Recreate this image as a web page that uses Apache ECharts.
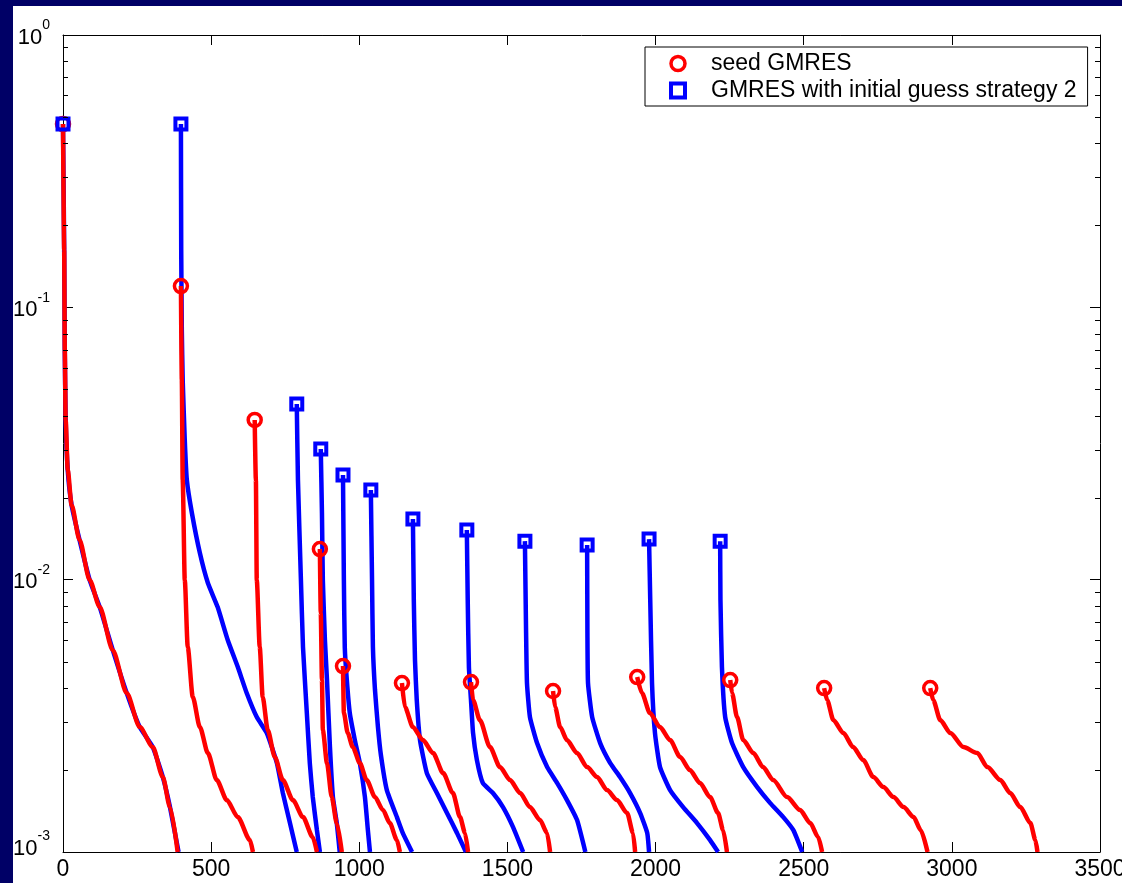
<!DOCTYPE html>
<html><head><meta charset="utf-8">
<script src="https://cdn.jsdelivr.net/npm/echarts@6/dist/echarts.min.js"></script>
<style>
html,body{margin:0;padding:0;background:#000066;width:1122px;height:883px;overflow:hidden}
#c{position:absolute;left:13px;top:6px;width:1109px;height:877px;background:#fff}
</style>
</head><body><div id="c"></div>
<script>
// ---- data ----
const seriesNames = ['seed GMRES', 'GMRES with initial guess strategy 2'];
const xTicks = [0, 500, 1000, 1500, 2000, 2500, 3000, 3500];
const yRange = [0.001, 1];
const yMinorTicks = [0.002,0.003,0.004,0.005,0.006,0.007,0.008,0.009,
                     0.02,0.03,0.04,0.05,0.06,0.07,0.08,0.09,
                     0.2,0.3,0.4,0.5,0.6,0.7,0.8,0.9];

// seed GMRES curves (red), each starts with a circle
const seed1 = [[0,0.471],[4,0.1624],[6,0.0697],[9,0.0386],[16,0.02526],[29,0.01879],[56,0.01397],[90,0.00997],[124,0.00793],[168,0.00551],[215,0.003835],[259,0.002875],[303,0.002428],[337,0.001884],[361,0.001462],[387,0.001]];
const seed2 = [[398,0.1197],[401,0.0541],[404,0.02321],[411,0.00997],[421,0.005655],[438,0.003706],[462,0.002875],[489,0.002308],[519,0.001837],[553,0.001551],[590,0.001343],[631,0.001106],[641,0.001]];
const seed3 = [[647,0.0386],[651,0.02321],[654,0.00997],[664,0.005655],[674,0.003706],[691,0.002803],[715,0.002232],[742,0.001837],[776,0.001551],[810,0.001343],[843,0.001134],[857,0.001]];
const seed4 = [[867,0.01295],[870,0.007541],[874,0.004279],[877,0.002803],[891,0.002121],[907,0.001591],[924,0.001277],[941,0.001]];
const seed5 = [[945,0.004817],[948,0.003236],[961,0.002733],[978,0.002428],[1002,0.002121],[1025,0.001837],[1053,0.001591],[1080,0.001425],[1103,0.001277],[1127,0.001106],[1137,0.001]];
const seed6 = [[1144,0.004172],[1154,0.003404],[1181,0.002875],[1215,0.002576],[1249,0.002308],[1283,0.001949],[1316,0.001646],[1340,0.001343],[1357,0.001173],[1367,0.001]];
const seed7 = [[1377,0.004206],[1384,0.003613],[1407,0.00305],[1441,0.002428],[1475,0.00205],[1509,0.001837],[1543,0.001646],[1576,0.001462],[1610,0.00131],[1634,0.001173],[1644,0.001]];
const seed8 = [[1654,0.0039],[1661,0.003404],[1678,0.002875],[1701,0.002576],[1735,0.002308],[1769,0.00205],[1803,0.001884],[1836,0.001688],[1870,0.001551],[1904,0.00139],[1924,0.001173],[1931,0.001]];
const seed9 = [[1938,0.004388],[1954,0.003835],[1981,0.003236],[2015,0.002875],[2049,0.002576],[2083,0.002232],[2116,0.001999],[2150,0.001791],[2184,0.001591],[2211,0.00139],[2228,0.001203],[2241,0.001]];
const seed10 = [[2252,0.004279],[2258,0.003835],[2275,0.003129],[2296,0.002576],[2330,0.002308],[2363,0.00205],[2397,0.001837],[2444,0.001591],[2488,0.001425],[2522,0.001277],[2549,0.001134],[2562,0.001]];
const seed11 = [[2569,0.003998],[2579,0.003613],[2600,0.00305],[2634,0.002733],[2667,0.002428],[2701,0.002175],[2735,0.001884],[2769,0.001732],[2803,0.001591],[2837,0.001462],[2871,0.001343],[2895,0.001203],[2918,0.001]];
const seed12 = [[2927,0.003998],[2937,0.003613],[2961,0.00305],[2995,0.002733],[3039,0.002428],[3086,0.002308],[3120,0.00205],[3164,0.001837],[3197,0.001646],[3231,0.001462],[3265,0.001277],[3282,0.001106],[3289,0.001]];

// GMRES with initial guess strategy 2 curves (blue), each starts with a square
const guess1 = [[0,0.471],[4,0.1624],[6,0.0697],[9,0.0386],[16,0.02526],[29,0.01879],[56,0.01397],[90,0.00997],[124,0.00793],[168,0.00551],[215,0.003835],[259,0.002875],[303,0.002428],[337,0.001884],[361,0.001462],[390,0.001]];
const guess2 = [[398,0.471],[399,0.1624],[401,0.0825],[404,0.0541],[411,0.03256],[418,0.02321],[435,0.01757],[462,0.01252],[489,0.00972],[522,0.00793],[556,0.006003],[590,0.004775],[620,0.003835],[654,0.003129],[688,0.002733],[722,0.002121],[742,0.001646],[766,0.001277],[789,0.001]];
const guess3 = [[789,0.04414],[793,0.02321],[803,0.00997],[810,0.005655],[823,0.003236],[833,0.002121],[843,0.001591],[857,0.001203],[867,0.001]];
const guess4 = [[870,0.03017],[874,0.01757],[877,0.00997],[884,0.006003],[891,0.004279],[901,0.002428],[911,0.001591],[924,0.001277],[934,0.001]];
const guess5 = [[945,0.02422],[948,0.00997],[951,0.005655],[958,0.004279],[968,0.003236],[985,0.002576],[1002,0.002121],[1019,0.001591],[1029,0.001203],[1036,0.001]];
const guess6 = [[1039,0.02133],[1043,0.00997],[1046,0.005655],[1053,0.003933],[1063,0.002875],[1073,0.002269],[1093,0.001688],[1127,0.001343],[1147,0.001173],[1178,0.001]];
const guess7 = [[1181,0.0167],[1184,0.00842],[1188,0.005066],[1194,0.003613],[1205,0.002576],[1228,0.001949],[1262,0.001646],[1296,0.00139],[1330,0.001173],[1360,0.001]];
const guess8 = [[1363,0.01521],[1366,0.00842],[1370,0.004775],[1377,0.003613],[1384,0.002733],[1397,0.002175],[1417,0.001791],[1451,0.001646],[1485,0.001462],[1519,0.001234],[1553,0.001]];
const guess9 = [[1559,0.01385],[1563,0.006367],[1566,0.004172],[1576,0.003129],[1600,0.002512],[1634,0.00205],[1668,0.001791],[1701,0.001551],[1735,0.00131],[1763,0.001]];
const guess10 = [[1769,0.0134],[1770,0.006367],[1772,0.004172],[1786,0.003129],[1813,0.002512],[1847,0.002121],[1880,0.001884],[1914,0.001646],[1948,0.00139],[1972,0.001173],[1978,0.001]];
const guess11 = [[1978,0.01409],[1982,0.00842],[1988,0.004172],[1998,0.002733],[2015,0.00205],[2049,0.001688],[2093,0.001462],[2140,0.001277],[2184,0.001106],[2211,0.001]];
const guess12 = [[2218,0.01385],[2219,0.00842],[2224,0.004775],[2235,0.003129],[2258,0.002512],[2296,0.00205],[2343,0.001732],[2387,0.001512],[2431,0.001343],[2465,0.001203],[2495,0.001]];

const seedCurves = [seed1,seed2,seed3,seed4,seed5,seed6,seed7,seed8,seed9,seed10,seed11,seed12];
const guessCurves = [guess1,guess2,guess3,guess4,guess5,guess6,guess7,guess8,guess9,guess10,guess11,guess12];

// ---- chart ----
const RED = '#ff0000', BLUE = '#0000ff';
const FONT = '"Liberation Sans", Arial, Helvetica, sans-serif';
const SQUARE = 'path://M0,0L10,0L10,10L0,10Z';
const chart = echarts.init(document.getElementById('c'), null, {renderer: 'canvas'});

const series = [];
guessCurves.forEach(c => series.push({
  type: 'line', name: seriesNames[1], data: c, showSymbol: false, symbol: 'none',
  smooth: 0.15,
  lineStyle: {color: BLUE, width: 4.5}, itemStyle: {color: BLUE}, z: 2, silent: true
}));
seedCurves.forEach(c => series.push({
  type: 'line', name: seriesNames[0], data: c, showSymbol: false, symbol: 'none',
  smooth: 0.25, smoothMonotone: 'x',
  lineStyle: {color: RED, width: 4.5}, itemStyle: {color: RED}, z: 3, silent: true
}));
series.push({
  type: 'scatter', name: seriesNames[0], data: seedCurves.map(c => c[0]),
  symbol: 'circle', symbolSize: 13,
  itemStyle: {color: 'rgba(0,0,0,0)', borderColor: RED, borderWidth: 3.5, opacity: 1},
  z: 4, silent: true
});
series.push({
  type: 'scatter', name: seriesNames[1], data: guessCurves.map(c => c[0]),
  symbol: 'rect', symbolSize: 11,
  itemStyle: {color: 'rgba(0,0,0,0)', borderColor: BLUE, borderWidth: 4, opacity: 1},
  z: 5, silent: true
});
// minor log ticks on left and right frame
series.push({
  type: 'custom', silent: true, z: 6,
  data: yMinorTicks.map(v => [xTicks[0], v]),
  renderItem: function (params, api) {
    const v = api.value(1);
    const pL = api.coord([xTicks[0], v]);
    const pR = api.coord([xTicks[xTicks.length - 1], v]);
    const y = Math.round(pL[1]) + 0.5;
    return {type: 'group', children: [
      {type: 'line', shape: {x1: pL[0], y1: y, x2: pL[0] + 5, y2: y}, style: {stroke: '#000', lineWidth: 1}},
      {type: 'line', shape: {x1: pR[0] - 5, y1: y, x2: pR[0], y2: y}, style: {stroke: '#000', lineWidth: 1}}
    ]};
  }
});

function yLabel(v) {
  const e = Math.round(Math.log10(v));
  const base = (v <= yRange[0] * 1.0001) ? 'bb' : 'b';
  return '{' + base + '|10}{s|' + (e === 0 ? '0' : '-' + (-e)) + '}';
}

const axisCommon = {
  axisLine: {show: true, onZero: false, lineStyle: {color: '#000', width: 1}},
  axisTick: {show: true, inside: true, length: 10, lineStyle: {color: '#000', width: 1}},
  splitLine: {show: false}
};

chart.setOption({
  animation: false,
  backgroundColor: '#ffffff',
  grid: {left: 50, top: 29, right: 22, bottom: 31, containLabel: false, outerBoundsMode: 'none'},
  legend: {
    show: true, orient: 'vertical', left: 632, top: 41,
    backgroundColor: '#ffffff', borderColor: '#000', borderWidth: 1,
    padding: [5, 11, 4, 24], itemGap: 4, itemWidth: 56, itemHeight: 14,
    symbolKeepAspect: true, selectedMode: false,
    textStyle: {fontFamily: FONT, fontSize: 23, color: '#000', lineHeight: 23},
    data: [
      {name: seriesNames[0], icon: 'circle', itemStyle: {color: 'rgba(0,0,0,0)', borderColor: RED, borderWidth: 3.5}},
      {name: seriesNames[1], icon: SQUARE, itemStyle: {color: 'rgba(0,0,0,0)', borderColor: BLUE, borderWidth: 4}}
    ]
  },
  xAxis: [
    Object.assign({
      type: 'value', position: 'bottom', min: xTicks[0], max: xTicks[xTicks.length - 1], interval: 500,
      axisLabel: {show: true, margin: 6, fontFamily: FONT, fontSize: 23, color: '#000',
        showMinLabel: true, showMaxLabel: true, hideOverlap: false, formatter: v => String(v)}
    }, axisCommon),
    Object.assign({
      type: 'value', position: 'top', min: xTicks[0], max: xTicks[xTicks.length - 1], interval: 500,
      axisLabel: {show: false}
    }, axisCommon)
  ],
  yAxis: [
    Object.assign({
      type: 'log', logBase: 10, position: 'left', min: yRange[0], max: yRange[1],
      axisLabel: {
        show: true, margin: 13, formatter: yLabel, showMinLabel: true, showMaxLabel: true,
        rich: {
          b: {fontFamily: FONT, fontSize: 22, color: '#000', verticalAlign: 'bottom', padding: [8, 0, 3, 0]},
          bb: {fontFamily: FONT, fontSize: 22, color: '#000', verticalAlign: 'bottom', padding: [8, 0, 15, 0]},
          s: {fontFamily: FONT, fontSize: 14, color: '#000', verticalAlign: 'top'}
        }
      }
    }, axisCommon),
    Object.assign({
      type: 'log', logBase: 10, position: 'right', min: yRange[0], max: yRange[1],
      axisLabel: {show: false}
    }, axisCommon)
  ],
  series: series
});
</script>
</body></html>
